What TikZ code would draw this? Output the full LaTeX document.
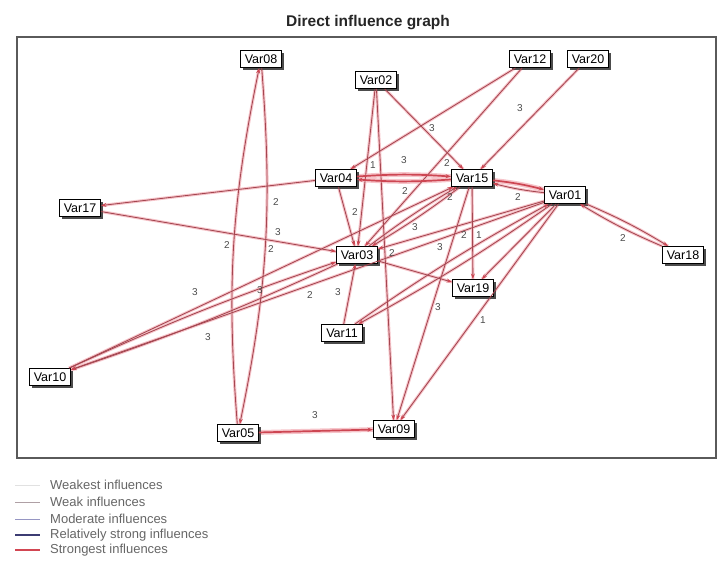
\documentclass[tikz,border=0pt]{standalone}
\usepackage{fontspec}
\setmainfont{Liberation Sans}
\usetikzlibrary{arrows.meta,shadows}
\pgfdeclarelayer{bg}
\pgfsetlayers{bg,main}
\definecolor{edgecol}{RGB}{165,70,80}
\definecolor{strongcol}{RGB}{205,70,82}
\definecolor{halocol}{RGB}{246,196,202}
\definecolor{framecol}{RGB}{90,90,90}
\definecolor{lgweakest}{RGB}{225,225,225}
\definecolor{lgweak}{RGB}{175,160,165}
\definecolor{lgmod}{RGB}{150,150,195}
\definecolor{lgrel}{RGB}{60,60,115}
\definecolor{lgstrong}{RGB}{210,70,82}
\tikzset{
  var/.style={draw=black, line width=0.9pt, fill=white,
    font=\fontsize{12.5}{12.5}\selectfont, minimum width=41pt, minimum height=17pt,
    inner sep=1pt,
    drop shadow={shadow xshift=2pt, shadow yshift=-2pt, fill=black!70, opacity=1}},
  core/.style={draw=edgecol, line width=0.85pt, -{Stealth[length=5.5pt,width=4pt,color=strongcol]}},
  halo/.style={draw=halocol, line width=3pt},
  lbl/.style={font=\fontsize{10}{10}\selectfont, text=black!70, inner sep=0pt},
  lgt/.style={font=\fontsize{13}{13}\selectfont, text=black!60, anchor=west, inner sep=0pt},
}
\newcommand\edgeAB[3][]{%
  \begin{pgfonlayer}{bg}\draw[halo,#1] (#2) to (#3);\end{pgfonlayer}%
  \draw[core,#1] (#2) to (#3);}
\newcommand\edgeST[3][]{%
  \begin{pgfonlayer}{bg}\draw[halo,line width=4.8pt,#1] (#2) to (#3);\end{pgfonlayer}%
  \draw[core,draw=strongcol,line width=1.7pt,#1] (#2) to (#3);}
\begin{document}
\begin{tikzpicture}[x=1pt,y=-1pt]
\useasboundingbox (0,0) rectangle (722,560);
% title and frame
\node[font=\bfseries\fontsize{15.5}{16}\selectfont, text=black!85] (title) at (368,23) {Direct influence graph};
\draw[framecol, line width=1.6pt] (17,37) rectangle (716,458);
% nodes
\node[var] (v08) at (261,59) {Var08};
\node[var] (v02) at (376,80) {Var02};
\node[var] (v12) at (530,59) {Var12};
\node[var] (v20) at (588,59) {Var20};
\node[var] (v04) at (336,178) {Var04};
\node[var] (v15) at (472,178) {Var15};
\node[var] (v01) at (565,195) {Var01};
\node[var] (v17) at (80,208) {Var17};
\node[var] (v03) at (357,255) {Var03};
\node[var] (v18) at (683,255) {Var18};
\node[var] (v19) at (473,288) {Var19};
\node[var] (v11) at (342,333) {Var11};
\node[var] (v10) at (50,377) {Var10};
\node[var] (v05) at (238,433) {Var05};
\node[var] (v09) at (394,429) {Var09};
% edges
\edgeAB[bend left=8]{v08}{v05}
\edgeAB[bend left=8]{v05}{v08}
\edgeAB{v04}{v17}
\edgeAB{v17}{v03}
\edgeAB[bend left=3]{v10}{v03}
\edgeAB[bend left=3]{v03}{v10}
\edgeAB{v10}{v15}
\edgeAB{v01}{v10}
\edgeAB{v12}{v04}
\edgeAB{v12}{v03}
\edgeAB{v20}{v15}
\edgeAB{v02}{v15}
\edgeAB{v02}{v03}
\edgeAB{v02}{v09}
\edgeST[bend left=4]{v04}{v15}
\edgeST[bend left=4]{v15}{v04}
\edgeST[bend left=4]{v15}{v01}
\edgeAB[bend left=4]{v01}{v15}
\edgeAB[bend left=4]{v01}{v18}
\edgeAB[bend left=4]{v18}{v01}
\edgeAB{v04}{v03}
\edgeAB[bend left=3]{v15}{v03}
\edgeAB[bend left=3]{v03}{v15}
\edgeAB{v15}{v19}
\edgeAB{v15}{v09}
\edgeAB{v01}{v09}
\edgeAB{v01}{v03}
\edgeAB{v01}{v19}
\edgeAB[bend left=3]{v01}{v11}
\edgeAB[bend left=3]{v11}{v01}
\edgeAB{v03}{v19}
\edgeAB{v11}{v03}
\edgeST{v05}{v09}
% edge labels
\node[lbl] (l01) at (276,202) {2};
\node[lbl] (l02) at (278,232) {3};
\node[lbl] (l03) at (227,245) {2};
\node[lbl] (l04) at (271,249) {2};
\node[lbl] (l05) at (195,292) {3};
\node[lbl] (l06) at (310,295) {2};
\node[lbl] (l07) at (338,292) {3};
\node[lbl] (l08) at (208,337) {3};
\node[lbl] (l09) at (315,415) {3};
\node[lbl] (l10) at (432,128) {3};
\node[lbl] (l11) at (404,160) {3};
\node[lbl] (l12) at (447,163) {2};
\node[lbl] (l13) at (520,108) {3};
\node[lbl] (l14) at (373,165) {1};
\node[lbl] (l15) at (405,191) {2};
\node[lbl] (l16) at (450,197) {2};
\node[lbl] (l17) at (518,197) {2};
\node[lbl] (l18) at (415,227) {3};
\node[lbl] (l19) at (440,247) {3};
\node[lbl] (l20) at (464,235) {2};
\node[lbl] (l21) at (479,235) {1};
\node[lbl] (l22) at (392,253) {2};
\node[lbl] (l23) at (623,238) {2};
\node[lbl] (l24) at (438,307) {3};
\node[lbl] (l25) at (483,320) {1};
\node[lbl] (l26) at (355,212) {2};
\node[lbl] (l27) at (260,290) {3};
% legend
\draw[lgweakest, line width=1pt] (15,485) -- (40,485);
\node[lgt] (t1) at (50,485) {Weakest influences};
\draw[lgweak, line width=1pt] (15,502) -- (40,502);
\node[lgt] (t2) at (50,502) {Weak influences};
\draw[lgmod, line width=1pt] (15,519) -- (40,519);
\node[lgt] (t3) at (50,519) {Moderate influences};
\draw[lgrel, line width=1.3pt] (15,535) -- (40,535);
\node[lgt] (t4) at (50,535) {Relatively strong influences};
\draw[lgstrong, line width=2pt] (15,550) -- (40,550);
\node[lgt] (t5) at (50,550) {Strongest influences};
\end{tikzpicture}
\end{document}
